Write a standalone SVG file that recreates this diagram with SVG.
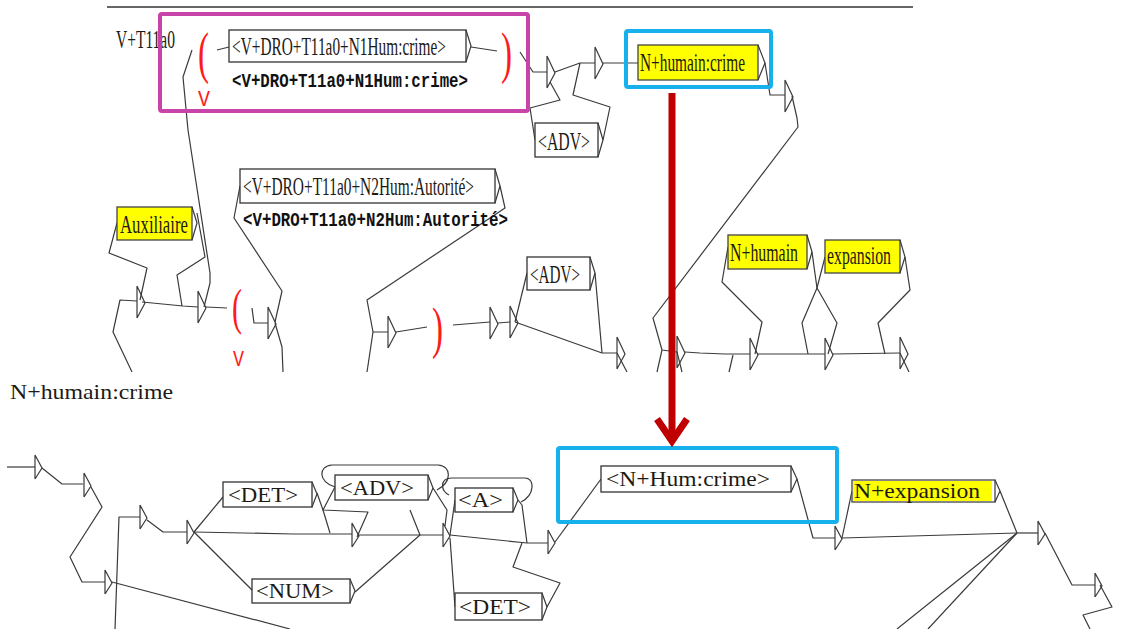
<svg xmlns="http://www.w3.org/2000/svg" xmlns:xlink="http://www.w3.org/1999/xlink" width="1122" height="629" viewBox="0 0 1122 629">
<style>
.c{fill:none;stroke:#3a3a3a;stroke-width:1.2;stroke-linejoin:round}
.bx{fill:#fff;stroke:#333;stroke-width:1.3}
.yb{fill:#ffff00;stroke:#444;stroke-width:1.3}
.t{font-family:"Liberation Serif","Times New Roman",serif;font-size:21px;fill:#1e1a14}
.tt{font-family:"Liberation Serif","Times New Roman",serif;font-size:25px;fill:#1e1a14}
.m{font-family:"Liberation Mono","Courier New",monospace;font-size:20px;font-weight:bold;fill:#111}
.rp{font-family:"Liberation Serif",serif;fill:#ff1a1a}
.rv{font-family:"Liberation Mono",monospace;font-size:22px;fill:#ff1a1a}
.hl{fill:none;stroke-width:4}
</style>
<defs>
<path id="a" d="M0,-16 L0,16 M0,-16 L8,1 L0,16" fill="none" stroke="#3a3a3a" stroke-width="1.2"/>
<path id="s" d="M0,-12 L0,12 M0,-12 L7,1 L0,12" fill="none" stroke="#3a3a3a" stroke-width="1.2"/>
</defs>
<rect width="1122" height="629" fill="#fff"/>
<line x1="107" y1="7" x2="913" y2="7" stroke="#333" stroke-width="1.5"/>

<g id="connectors">
<!-- top section -->
<polyline class="c" points="217,50 229,47"/>
<polyline class="c" points="471,47 497,51"/>
<polyline class="c" points="192,50 183,77 188,130 210,273 210,283 204,307"/>
<polyline class="c" points="197,213 205,257 177,275 182,306"/>
<polyline class="c" points="117,223 109,253 147,268 140,300"/>
<polyline class="c" points="132,372 113,332 120,300 137,301"/>
<polyline class="c" points="142,302 183,306 198,307"/>
<polyline class="c" points="206,307 227,308"/>
<polyline class="c" points="252,308 254,323 268,323"/>
<polyline class="c" points="240,186 234,218 282,291 275,322"/>
<polyline class="c" points="275,323 282,347 283,372"/>
<polyline class="c" points="500,186 505,208 367,300 373,332 388,332"/>
<polyline class="c" points="373,332 367,372"/>
<polyline class="c" points="396,332 427,327"/>
<polyline class="c" points="453,325 490,322"/>
<polyline class="c" points="498,323 510,322"/>
<polyline class="c" points="515,322 527,273"/>
<polyline class="c" points="515,322 602,353 617,353"/>
<polyline class="c" points="595,273 602,353"/>
<polyline class="c" points="520,52 533,72 547,72"/>
<polyline class="c" points="555,72 580,63 595,63"/>
<polyline class="c" points="603,63 638,63"/>
<polyline class="c" points="550,82 560,100 530,108 535,140"/>
<polyline class="c" points="603,140 610,107 573,95 580,63"/>
<polyline class="c" points="765,63 770,95 785,95"/>
<polyline class="c" points="792,96 797,118 798,127 653,318 662,350 677,352"/>
<polyline class="c" points="662,350 657,372"/>
<polyline class="c" points="685,352 700,353 725,354 750,354"/>
<polyline class="c" points="733,355 729,372"/>
<polyline class="c" points="758,354 825,354"/>
<polyline class="c" points="833,354 900,353"/>
<polyline class="c" points="728,247 722,282 762,322 755,354"/>
<polyline class="c" points="812,252 817,288 802,323 808,354"/>
<polyline class="c" points="825,257 817,288 837,323 828,354"/>
<polyline class="c" points="905,257 910,290 878,323 885,354"/>
<polyline class="c" points="617,353 627,372"/>
<polyline class="c" points="677,352 682,372"/>
<polyline class="c" points="900,353 909,372"/>
<!-- bottom section -->
<polyline class="c" points="7,467 35,467"/>
<polyline class="c" points="42,468 62,484 83,484"/>
<polyline class="c" points="91,487 102,507 70,557 82,582 105,582"/>
<polyline class="c" points="112,582 290,629"/>
<polyline class="c" points="115,629 119,517 140,517"/>
<polyline class="c" points="147,520 163,532 187,532"/>
<polyline class="c" points="194,532 223,497"/>
<polyline class="c" points="194,532 293,534 352,534"/>
<polyline class="c" points="194,532 252,590"/>
<polyline class="c" points="317,493 323,510 330,533"/>
<polyline class="c" points="335,487 323,510 368,512 357,537"/>
<path class="c" d="M335,487 C318,482 318,466 332,465 L438,465 C452,466 452,482 437,490"/>
<polyline class="c" points="433,488 447,510 445,526"/>
<polyline class="c" points="355,592 420,535 410,510"/>
<polyline class="c" points="359,535 443,535"/>
<polyline class="c" points="450,535 527,543 548,543"/>
<polyline class="c" points="450,535 455,500"/>
<polyline class="c" points="450,538 455,607"/>
<polyline class="c" points="518,500 522,505 527,543"/>
<path class="c" d="M449,495 C440,490 440,478 452,478 L525,478 C535,478 535,495 521,502"/>
<polyline class="c" points="547,607 560,583 513,567 522,543"/>
<polyline class="c" points="555,542 601,479"/>
<polyline class="c" points="797,479 813,538 835,538"/>
<polyline class="c" points="842,538 852,491"/>
<polyline class="c" points="842,538 1017,533"/>
<polyline class="c" points="1000,491 1017,533"/>
<polyline class="c" points="1017,533 1038,533"/>
<polyline class="c" points="1045,533 1072,585 1095,585"/>
<polyline class="c" points="1100,585 1112,607 1083,615 1090,629"/>
<polyline class="c" points="1017,533 897,629"/>
<polyline class="c" points="1017,533 928,629"/>
<!-- arrows (empty boxes) -->
<use xlink:href="#a" x="137" y="302"/>
<use xlink:href="#a" x="198" y="307"/>
<use xlink:href="#a" x="268" y="323"/>
<use xlink:href="#a" x="388" y="332"/>
<use xlink:href="#a" x="490" y="323"/>
<use xlink:href="#a" x="510" y="322"/>
<use xlink:href="#a" x="547" y="72"/>
<use xlink:href="#a" x="595" y="63"/>
<use xlink:href="#a" x="785" y="96"/>
<use xlink:href="#a" x="617" y="353"/>
<use xlink:href="#a" x="677" y="352"/>
<use xlink:href="#a" x="750" y="354"/>
<use xlink:href="#a" x="825" y="354"/>
<use xlink:href="#a" x="900" y="353"/>
<use xlink:href="#s" x="35" y="467"/>
<use xlink:href="#s" x="84" y="485"/>
<use xlink:href="#s" x="105" y="582"/>
<use xlink:href="#s" x="140" y="517"/>
<use xlink:href="#s" x="187" y="532"/>
<use xlink:href="#s" x="352" y="535"/>
<use xlink:href="#s" x="443" y="535"/>
<use xlink:href="#s" x="548" y="542"/>
<use xlink:href="#s" x="835" y="538"/>
<use xlink:href="#s" x="1038" y="533"/>
<use xlink:href="#s" x="1095" y="585"/>
</g>

<text class="tt" x="116" y="48" textLength="59" lengthAdjust="spacingAndGlyphs">V+T11a0</text>

<g id="ctx1">
<text class="rp" x="198" y="72" font-size="56" textLength="11" lengthAdjust="spacingAndGlyphs">(</text>
<text class="rv" x="198" y="106" textLength="12" lengthAdjust="spacingAndGlyphs">V</text>
<text class="rp" x="501" y="72" font-size="56" textLength="11" lengthAdjust="spacingAndGlyphs">)</text>
</g>
<g id="box1">
<rect class="bx" x="229" y="30" width="237" height="32"/>
<polyline class="c" points="466,30 471,46 466,62"/>
<text class="tt" x="232" y="55" textLength="214" lengthAdjust="spacingAndGlyphs">&lt;V+DRO+T11a0+N1Hum:crime&gt;</text>
<text class="m" x="232" y="87" textLength="236" lengthAdjust="spacingAndGlyphs">&lt;V+DRO+T11a0+N1Hum:crime&gt;</text>
</g>
<g id="aux">
<rect class="yb" x="117" y="207" width="75" height="33"/>
<polyline class="c" points="192,207 197,223 192,240"/>
<text class="tt" x="120" y="233" textLength="68" lengthAdjust="spacingAndGlyphs">Auxiliaire</text>
</g>
<g id="ctx2">
<text class="rp" x="232" y="324" font-size="50" textLength="10" lengthAdjust="spacingAndGlyphs">(</text>
<text class="rv" x="233" y="366" textLength="11" lengthAdjust="spacingAndGlyphs">V</text>
<text class="rp" x="432" y="347" font-size="56" textLength="11" lengthAdjust="spacingAndGlyphs">)</text>
</g>
<g id="box2">
<rect class="bx" x="240" y="169" width="255" height="34"/>
<polyline class="c" points="495,169 500,186 495,203"/>
<text class="tt" x="243" y="195" textLength="231" lengthAdjust="spacingAndGlyphs">&lt;V+DRO+T11a0+N2Hum:Autorité&gt;</text>
<text class="m" x="243" y="226" textLength="265" lengthAdjust="spacingAndGlyphs">&lt;V+DRO+T11a0+N2Hum:Autorité&gt;</text>
</g>
<g id="adv1">
<rect class="bx" x="535" y="123" width="63" height="34"/>
<polyline class="c" points="598,123 603,140 598,157"/>
<text class="tt" x="538" y="150" textLength="52" lengthAdjust="spacingAndGlyphs">&lt;ADV&gt;</text>
</g>
<g id="adv2">
<rect class="bx" x="527" y="257" width="63" height="33"/>
<polyline class="c" points="590,257 595,273 590,290"/>
<text class="tt" x="530" y="283" textLength="50" lengthAdjust="spacingAndGlyphs">&lt;ADV&gt;</text>
</g>
<g id="nhc">
<rect class="yb" x="638" y="45" width="120" height="35"/>
<polyline class="c" points="758,45 765,63 758,80"/>
<text class="tt" x="640" y="71" textLength="105" lengthAdjust="spacingAndGlyphs">N+humain:crime</text>
</g>
<g id="nh">
<rect class="yb" x="728" y="235" width="79" height="34"/>
<polyline class="c" points="807,235 812,252 807,269"/>
<text class="tt" x="730" y="261" textLength="68" lengthAdjust="spacingAndGlyphs">N+humain</text>
</g>
<g id="exp">
<rect class="yb" x="825" y="240" width="75" height="33"/>
<polyline class="c" points="900,240 905,257 900,273"/>
<text class="tt" x="827" y="264" textLength="64" lengthAdjust="spacingAndGlyphs">expansion</text>
</g>

<text class="t" x="10" y="399" textLength="163" lengthAdjust="spacingAndGlyphs">N+humain:crime</text>

<g id="det1">
<rect class="bx" x="223" y="482" width="89" height="25"/>
<polyline class="c" points="312,482 317,494 312,507"/>
<text class="t" x="228" y="502" textLength="70" lengthAdjust="spacingAndGlyphs">&lt;DET&gt;</text>
</g>
<g id="num">
<rect class="bx" x="252" y="579" width="98" height="24"/>
<polyline class="c" points="350,579 355,591 350,603"/>
<text class="t" x="256" y="598" textLength="78" lengthAdjust="spacingAndGlyphs">&lt;NUM&gt;</text>
</g>
<g id="adv3">
<rect class="bx" x="335" y="475" width="93" height="25"/>
<polyline class="c" points="428,475 433,488 428,500"/>
<text class="t" x="340" y="495" textLength="74" lengthAdjust="spacingAndGlyphs">&lt;ADV&gt;</text>
</g>
<g id="adj">
<rect class="bx" x="455" y="488" width="58" height="24"/>
<polyline class="c" points="513,488 518,500 513,512"/>
<text class="t" x="458" y="507" textLength="45" lengthAdjust="spacingAndGlyphs">&lt;A&gt;</text>
</g>
<g id="det2">
<rect class="bx" x="455" y="593" width="87" height="27"/>
<polyline class="c" points="542,593 547,607 542,620"/>
<text class="t" x="459" y="614" textLength="72" lengthAdjust="spacingAndGlyphs">&lt;DET&gt;</text>
</g>
<g id="nhumcrime">
<rect class="bx" x="601" y="466" width="190" height="26"/>
<polyline class="c" points="791,466 797,479 791,492"/>
<text class="t" x="606" y="486" textLength="164" lengthAdjust="spacingAndGlyphs">&lt;N+Hum:crime&gt;</text>
</g>
<g id="nexp">
<rect x="852" y="480" width="143" height="22" fill="#fff" stroke="#444" stroke-width="1.3"/>
<rect x="853" y="481" width="139" height="20" fill="#ffff00"/>
<polyline class="c" points="995,480 1000,491 995,502"/>
<text class="t" x="854" y="498" textLength="126" lengthAdjust="spacingAndGlyphs">N+expansion</text>
</g>

<g id="highlights">
<rect class="hl" x="160" y="14" width="368" height="97" rx="2" stroke="#c944a8"/>
<rect class="hl" x="626" y="31" width="145" height="56" rx="2" stroke="#16b0ec"/>
<rect class="hl" x="558" y="448" width="279" height="74" rx="2" stroke="#16b0ec"/>
<line x1="672" y1="93" x2="672" y2="438" stroke="#c00000" stroke-width="7"/>
<polyline points="657,419 672,441 687,419" fill="none" stroke="#c00000" stroke-width="7" stroke-linejoin="miter"/>
</g>
</svg>
